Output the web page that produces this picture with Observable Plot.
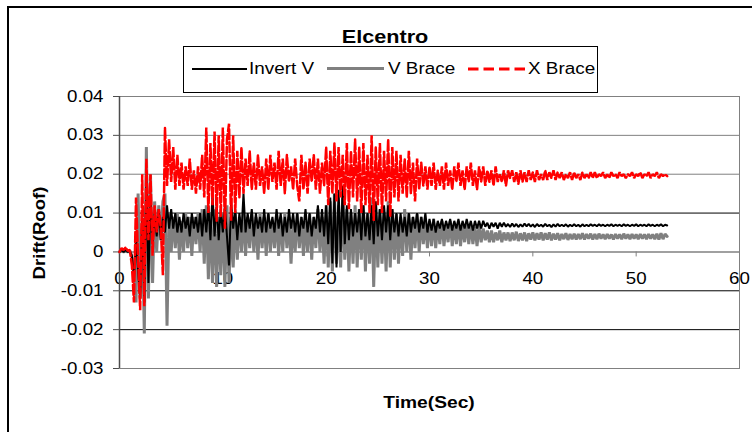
<!DOCTYPE html>
<html>
<head>
<meta charset="utf-8">
<script src="https://cdn.jsdelivr.net/npm/d3@7"></script>
<script src="https://cdn.jsdelivr.net/npm/@observablehq/plot@0.6"></script>
<style>
  html, body { margin: 0; padding: 0; background: #fff; }
  #wrap { position: relative; width: 752px; height: 432px; overflow: hidden;
          font-family: "Liberation Sans", Arial, sans-serif; color: #000; }
  #border { position: absolute; left: 7px; top: 6px; width: 820px; height: 520px;
            border: 2px solid #000; box-sizing: border-box; }
  #chart { position: absolute; left: 0; top: 0; }
  .t { position: absolute; white-space: nowrap; line-height: 20px; }
  #title { left: 285px; width: 200px; top: 27px; text-align: center; font-weight: bold;
           font-size: 18.5px; transform: scaleX(1.17); transform-origin: center; }
  #ytitle { left: -20px; width: 120px; top: 223px; text-align: center; font-weight: bold;
            font-size: 16px; transform: rotate(-90deg) scaleX(1.16); transform-origin: center; }
  #xtitle { left: 369px; width: 120px; top: 393px; text-align: center; font-weight: bold;
            font-size: 16px; transform: scaleX(1.2); transform-origin: center; }
  #legend { position: absolute; left: 183px; top: 46px; width: 415px; height: 47px;
            border: 1px solid #000; box-sizing: border-box; background: #fff; }
  .lt { font-size: 16px; top: 59px; transform: scaleX(1.18); transform-origin: left center; }
  .ls { position: absolute; }
</style>
</head>
<body>
<div id="wrap">
  <div id="border"></div>
  <div id="chart"></div>
  <div id="legend"></div>
  <div class="t" id="title">Elcentro</div>
  <div class="t" id="ytitle">Drift(Roof)</div>
  <div class="t" id="xtitle">Time(Sec)</div>
  <div class="ls" style="left:192px;top:68px;width:55px;height:2px;background:#000"></div>
  <div class="t lt" style="left:249px">Invert V</div>
  <div class="ls" style="left:327px;top:67px;width:57px;height:3px;background:#808080"></div>
  <div class="t lt" style="left:388px">V Brace</div>
  <svg class="ls" style="left:468px;top:64px" width="58" height="10">
    <line x1="0" y1="5" x2="57" y2="5" stroke="#ff0000" stroke-width="3" stroke-dasharray="10.5,5"></line>
  </svg>
  <div class="t lt" style="left:528px">X Brace</div>
</div>
<script>
// Roof drift records (values in thousandths, i.e. x 0.001), sampled every 0.2 s from t = 0
const DT = 0.2;          // sampling step of the records (s)
const UNIT = 0.001;      // values below are in units of 0.001

const invertV = [
  0,0.5,0,0.5,0,
  0.3,-1,-7,4,-5,
  -12,10,-13,20,-8,
  14,2,10,4,11,
  3,9,5,12,6,
  11,6,10,5,9,
  5,10,6,9,4,
  10,6,9,5,10,
  4,11,5,12,3,
  15,4,12,3,11,
  5,12,4,-3.5,13,
  6,11,3,10,5,
  15,5,10,6,11,
  4,10,6,9,5,
  11,5,10,6,9,
  5,11,6,10,4,
  9,5,11,6,10,
  5,10,4,9,6,
  11,5,10,4,9,
  6,12,5,11,4,
  12,2,14,-3,15,
  -4,16,0,17,2,
  12,3,11,4,10,
  5,11,3,12,4,
  10,3,12,2,13,
  4,11,3,12,5,
  12,3,11,5,10,
  4,10,5,9,4,
  10,5,9,6,10,
  5,9,6,10,5,
  8.5,5.5,8.5,5,8,
  6,8.5,5.5,8,6,
  8.5,5.5,8,6,8.5,
  5.5,8,6,8.5,6,
  8,5.5,8,6,8,
  6,8,6.5,7.5,6,
  7.5,6.5,7.5,6,7.5,
  6.5,7.5,6.5,7.2,6.4,
  7.3,6.5,7.2,6.4,7.1,
  6.5,7.3,6.6,7.2,6.5,
  7.1,6.4,7.2,6.6,7.0,
  6.5,7.2,6.6,7.0,6.4,
  7.1,6.5,7.2,6.6,7.0,
  6.6,7.1,6.5,7.0,6.6,
  7.1,6.6,7.0,6.5,7.1,
  6.6,7.0,6.6,7.1,6.7,
  7.0,6.6,7.1,6.7,7.0,
  6.6,7.0,6.7,7.1,6.6,
  7.0,6.7,7.0,6.6,7.1,
  6.7,7.0,6.6,7.0,6.7,
  7.1,6.6,7.0,6.7,7.0,
  6.6,7.1,6.7,7.0,6.6,
  7.0,6.7,7.1,6.6,7.0,
  6.8
];

const vBrace = [
  0,0.3,0,0.4,0,
  0.3,-1,-5,-13,15,
  -12,8,-21,27,-12,
  20,-8,13,0,12,
  3,13,15,-19,10,
  0,9,1,10,-2,
  8,0,10,1,9,
  -1,9,2,10,0,
  11,-3,12,-7,10,
  -8,11,-9,9,-6,
  10,-9,12,-8,9,
  -4,10,-2,9,0,
  10,-1,9,1,10,
  0,9,-2,10,1,
  9,-1,10,0,8,
  1,10,-1,9,0,
  10,1,9,-3,8,
  0,10,1,9,-1,
  8,0,10,-2,9,
  1,11,0,9,-3,
  12,-4,13,-5,15,
  -3,12,-4,14,-2,
  11,-5,10,-3,12,
  -4,11,-2,12,-5,
  10,-3,14,-9,12,
  -4,11,-3,10,-5,
  13,-4,11,-2,10,
  -3,9,-1,11,0,
  10,-2,9,1,10,
  0,9,2,8,1,
  8,1.5,8.5,1,7.5,
  2,8,1.5,7,2.5,
  8,1.5,7.5,2,8,
  1.5,7,2.5,7.5,2,
  7,2,6.5,1.5,7,
  2.5,6,3,5.5,2.5,
  5.5,2.5,5,3,5.5,
  2.5,5,3,5,2.8,
  5,3,5.2,2.8,4.8,
  3,5,2.8,4.8,3.2,
  5,3,4.8,3.2,5,
  3,4.8,3.2,5,3,
  4.7,3.2,4.8,3,4.6,
  3.3,4.8,3.1,4.6,3.3,
  4.7,3.2,4.6,3.3,4.8,
  3.2,4.6,3.4,4.7,3.2,
  4.6,3.3,4.7,3.4,4.5,
  3.3,4.6,3.4,4.5,3.2,
  4.6,3.4,4.5,3.3,4.7,
  3.4,4.5,3.3,4.6,3.4,
  4.5,3.3,4.6,3.4,4.5,
  3.3,4.6,3.4,4.5,3.3,
  4.7,3.2,4.8,3.3,4.6,
  4.0
];

const xBrace = [
  0,1,0.5,1.2,0.3,
  0.5,-3.5,-13,14,-2,
  -15,20,-14,24,3,
  20,-1,12,5,11,
  6,-6,32,17,29,
  18,27,16,25,17,
  23,16,22,17,24,
  16,21,15,22,16,
  25,14,32,10,28,
  12,31,8,30,9,
  32,6,29,33,8,
  30,10,26,14,27,
  15,24,17,26,16,
  23,16,25,17,22,
  15,24,16,25,18,
  23,16,26,17,24,
  15,25,18,22,16,
  24,17,13,25,16,
  23,15,24,18,25,
  16,24,15,23,17,
  27,12,26,15,28,
  13,27,14,25,12,
  28,11,26,14,29,
  13,27,10,28,12,
  25,10,30,8,27,
  12,28,10,26,13,
  29,9,27,14,26,
  13,25,15,24,14,
  26,15,23,13,24,
  16,23,17,22,16,
  22,17,23,16,21,
  17,22,16,23,17,
  21,16,22,18,23,
  17,21,16,22,18,
  23,17,21,16,22,
  18,22,17,21,18,
  21,17,22,18,20,
  18,21,17,21,19,
  21,18,20.5,17.5,21,
  18,20.5,18,21,18.5,
  20.5,18,21,18.5,20,
  18.5,21,18.5,20.5,19,
  21,18.5,20.5,19,20.5,
  18.5,20,19,20.5,18.5,
  20.5,19,20,18.5,20.5,
  19,20,19,20.5,19,
  20.5,19,20,19.5,20.5,
  19,20,19,20.5,19.5,
  20,19,20.5,19.5,20,
  19,20,19.5,20.5,19,
  20,19.5,20.5,19,20,
  19.5,20.5,19,20,19.5,
  20.5,19,20,19.5,20,
  19.5
];

const seriesNames = ["Invert V", "V Brace", "X Brace"];
const xTicks = [0, 10, 20, 30, 40, 50, 60];
const yTicks = [0.04, 0.03, 0.02, 0.01, 0, -0.01, -0.02, -0.03];
const gridGray = [0.03, 0.02];
const gridBlack = [0.01, -0.01, -0.02];

const toRows = (arr) => arr.map((v, i) => ({t: i * DT, v: v * UNIT}));
const rowsInvert = toRows(invertV);
const rowsV = toRows(vBrace);
const rowsX = toRows(xBrace);

const fmt = d => d === 0 ? "0" : d.toFixed(2);

const chart = Plot.plot({
  width: 752,
  height: 432,
  marginTop: 96,
  marginBottom: 64,
  marginLeft: 119,
  marginRight: 13,
  style: {fontFamily: "'Liberation Sans', Arial, sans-serif", fontSize: "16px", color: "#000", background: "transparent", overflow: "visible"},
  x: {domain: [0, 60], axis: null},
  y: {domain: [-0.03, 0.04], axis: null},
  marks: [
    Plot.ruleY(gridGray, {stroke: "#808080"}),
    Plot.ruleY(gridBlack, {stroke: "#000"}),
    Plot.frame({stroke: "#808080"}),
    Plot.ruleY([0], {stroke: "#808080", strokeWidth: 1.5}),
    Plot.ruleX(xTicks, {x: d => d, y1: 0, y2: 0, insetBottom: -5, stroke: "#808080"}),
    Plot.text(xTicks, {x: d => d, y: 0, text: d => String(d), dy: 27, fontSize: 16}),
    Plot.ruleX([0], {stroke: "#4d4d4d", strokeWidth: 1.5}),
    Plot.axisY(yTicks, {anchor: "left", tickSize: 6, tickPadding: 10, tickFormat: fmt, fontSize: 16, stroke: "#4d4d4d", label: null}),
    Plot.line(rowsV, {x: "t", y: "v", stroke: "#808080", strokeWidth: 3, strokeLinejoin: "miter"}),
    Plot.line(rowsInvert, {x: "t", y: "v", stroke: "#000", strokeWidth: 2, strokeLinejoin: "miter"}),
    Plot.line(rowsX, {x: "t", y: "v", stroke: "#ff0000", strokeWidth: 2.5, strokeDasharray: "10,3", strokeLinejoin: "miter"})
  ]
});

// widen glyphs horizontally as in the original rendering
chart.querySelectorAll("text").forEach(el => {
  const tr = el.getAttribute("transform");
  if (tr !== null) el.setAttribute("transform", tr + " scale(1.17,1)");
});

document.getElementById("chart").appendChild(chart);
</script>
</body>
</html>
